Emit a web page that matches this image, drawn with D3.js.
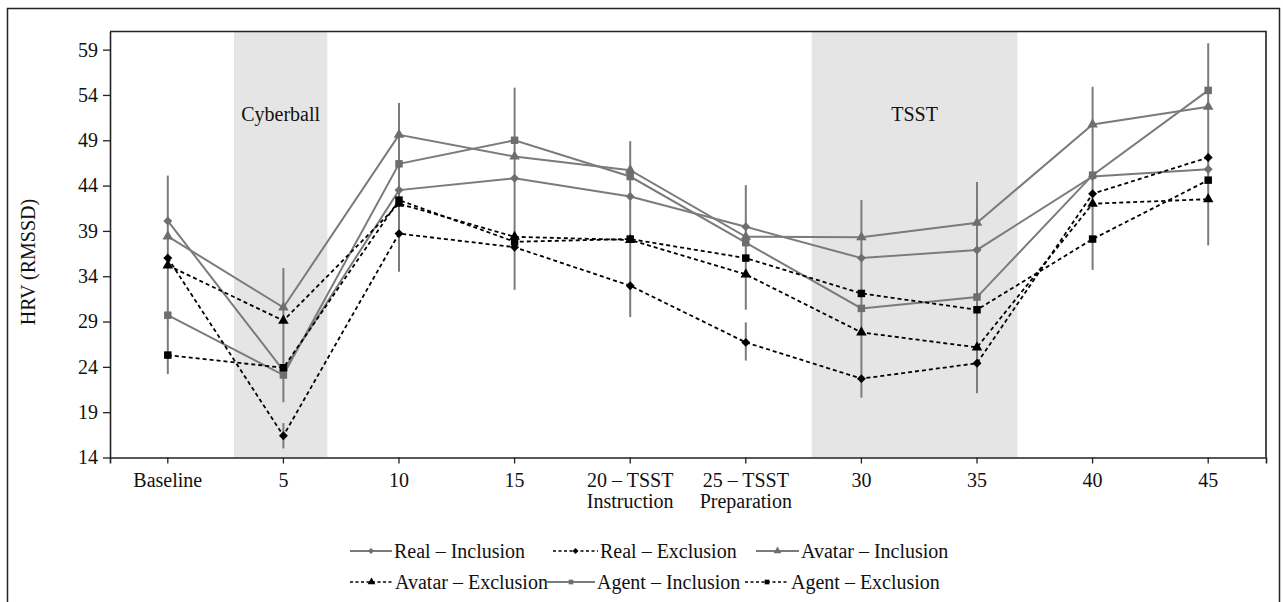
<!DOCTYPE html>
<html><head><meta charset="utf-8">
<script src="https://cdn.jsdelivr.net/npm/d3@7"></script>
<style>
html,body{margin:0;padding:0;background:#fff;}
svg{display:block;font-family:"Liberation Serif","Times New Roman",serif;}
</style></head>
<body>
<svg id="chart" width="1283" height="602"></svg>
<script>
// ---------- data ----------
const categories = ["Baseline","5","10","15","20 – TSST\nInstruction","25 – TSST\nPreparation","30","35","40","45"];
const yTicks = [14,19,24,29,34,39,44,49,54,59];

const realInclusion   = [40.1, 23.6, 43.5, 44.8, 42.8, 39.45, 36.0, 36.9, 45.0, 45.8];
const realExclusion   = [36.0, 16.4, 38.7, 37.2, 32.95, 26.7, 22.7, 24.4, 43.1, 47.1];
const avatarInclusion = [38.4, 30.55, 49.6, 47.2, 45.7, 38.35, 38.3, 39.9, 50.75, 52.7];
const avatarExclusion = [35.2, 29.1, 42.0, 38.35, 38.0, 34.2, 27.8, 26.15, 42.0, 42.5];
const agentInclusion  = [29.7, 23.1, 46.4, 49.0, 45.0, 37.7, 30.45, 31.7, 45.15, 54.5];
const agentExclusion  = [25.3, 23.9, 42.4, 37.8, 38.1, 36.0, 32.1, 30.3, 38.1, 44.6];

// error bars: [category index, low, high]
const errorBars = [
  [0, 23.2, 45.1],
  [1, 20.1, 34.9], [1, 15.0, 17.8],
  [2, 34.5, 53.1],
  [3, 32.5, 54.8],
  [4, 29.5, 48.9],
  [5, 30.3, 44.05], [5, 24.7, 28.9],
  [6, 20.6, 42.4],
  [7, 21.1, 44.4],
  [8, 34.7, 54.9],
  [9, 37.4, 59.7]
];

// shaded phases, in category-index units
const phases = [
  {label:"Cyberball", from:0.573, to:1.38},
  {label:"TSST", from:5.57, to:7.35}
];

const seriesNames = ["Real – Inclusion","Real – Exclusion","Avatar – Inclusion","Avatar – Exclusion","Agent – Inclusion","Agent – Exclusion"];
const seriesValues = [realInclusion, realExclusion, avatarInclusion, avatarExclusion, agentInclusion, agentExclusion];
const seriesShape = ["diamond","diamond","triangle","triangle","square","square"];
const seriesDashed = [false,true,false,true,false,true];

// ---------- drawing ----------
const GRAY = "#7b7b7b";
const FONT = 20;
const svg = d3.select("#chart");
const L = 110, R = 1266, T = 31.5, B = 457.5;

const x = d3.scaleBand().domain(categories).range([L, R]).padding(0);
const cx = c => x(c) + x.bandwidth()/2;
const idxX = d3.scaleLinear().domain([0, categories.length-1]).range([cx(categories[0]), cx(categories[categories.length-1])]);
const y = d3.scaleLinear().domain([14, 61]).range([B, T]);

// outer border
svg.append("rect").attr("x",7.5).attr("y",8.5).attr("width",1272).attr("height",620)
  .attr("fill","none").attr("stroke","#222").attr("stroke-width",1.5);

// phases
phases.forEach(p => {
  svg.append("rect").attr("x", idxX(p.from)).attr("y", T)
    .attr("width", idxX(p.to)-idxX(p.from)).attr("height", B-T)
    .attr("fill","#e5e5e5");
  svg.append("text").attr("x",(idxX(p.from)+idxX(p.to))/2).attr("y",121)
    .attr("text-anchor","middle").attr("font-size",FONT).attr("fill","#111").text(p.label);
});

// frame top & right
svg.append("path").attr("d",`M${L},${T}H${R}V${B}`).attr("fill","none").attr("stroke","#222").attr("stroke-width",1.6);

// y axis
const yAxis = svg.append("g").attr("transform",`translate(${L},0)`)
  .call(d3.axisLeft(y).tickValues(yTicks).tickSize(7).tickPadding(5).tickSizeOuter(0));
yAxis.select(".domain").attr("stroke","#222").attr("stroke-width",1.6);
yAxis.selectAll(".tick line").attr("stroke","#222").attr("stroke-width",1.3);
yAxis.selectAll("text").attr("font-size",FONT).attr("fill","#111").attr("font-family","Liberation Serif, Times New Roman, serif");

// x axis
const xAxis = svg.append("g").attr("transform",`translate(0,${B})`)
  .call(d3.axisBottom(x).tickSize(6).tickSizeOuter(6).tickFormat(""));
xAxis.select(".domain").attr("stroke","#222").attr("stroke-width",1.6);
xAxis.selectAll(".tick line").attr("stroke","#222").attr("stroke-width",1.3);
categories.forEach(c => {
  const lines = c.split("\n");
  const t = svg.append("text").attr("x", cx(c)).attr("y", 487).attr("text-anchor","middle")
    .attr("font-size",FONT).attr("fill","#111");
  lines.forEach((ln,i) => t.append("tspan").attr("x",cx(c)).attr("dy", i===0?0:21).text(ln));
});

// y label
svg.append("text").attr("transform",`translate(35,262) rotate(-90)`).attr("text-anchor","middle")
  .attr("font-size",FONT).attr("fill","#111").text("HRV (RMSSD)");

// error bars
svg.append("g").selectAll("line").data(errorBars).join("line")
  .attr("x1", d => cx(categories[d[0]])).attr("x2", d => cx(categories[d[0]]))
  .attr("y1", d => y(d[1])).attr("y2", d => y(d[2]))
  .attr("stroke", GRAY).attr("stroke-width",2);

function symbolPath(shape){
  if(shape==="diamond") return d3.symbol().type(d3.symbolSquare).size(40)();
  if(shape==="triangle") return d3.symbol().type(d3.symbolTriangle).size(48)();
  return d3.symbol().type(d3.symbolSquare).size(56)();
}
function symbolTransform(shape, px, py){
  return shape==="diamond" ? `translate(${px},${py}) rotate(45)` : `translate(${px},${py})`;
}

const line = d3.line().x((d,i)=>cx(categories[i])).y(d=>y(d));

// draw inclusion (gray solid) first, then exclusion
const order = [0,2,4,1,3,5];
order.forEach(s => {
  const vals = seriesValues[s];
  const col = seriesDashed[s] ? "#000" : GRAY;
  svg.append("path").datum(vals).attr("d", line).attr("fill","none")
    .attr("stroke", col).attr("stroke-width", seriesDashed[s]?1.8:2)
    .attr("stroke-dasharray", seriesDashed[s]?"4,3":null);
  svg.append("g").selectAll("path").data(vals).join("path")
    .attr("d", symbolPath(seriesShape[s]))
    .attr("transform",(d,i)=>symbolTransform(seriesShape[s], cx(categories[i]), y(d)))
    .attr("fill", seriesDashed[s] ? "#000" : "#6e6e6e");
});

// legend
const legendPos = [
  {sx:350, ex:392, tx:394, ty:552},
  {sx:553, ex:598, tx:600, ty:552},
  {sx:756, ex:799, tx:801, ty:552},
  {sx:350, ex:393, tx:395, ty:583},
  {sx:547, ex:595, tx:597, ty:583},
  {sx:745, ex:789, tx:791, ty:583}
];
seriesNames.forEach((name,s) => {
  const p = legendPos[s];
  const col = seriesDashed[s] ? "#000" : GRAY;
  const g = svg.append("g");
  g.append("line").attr("x1",p.sx).attr("x2",p.ex).attr("y1",p.ty-1).attr("y2",p.ty-1)
    .attr("stroke",col).attr("stroke-width",seriesDashed[s]?1.6:2)
    .attr("stroke-dasharray",seriesDashed[s]?"3,2.5":null);
  g.append("path").attr("d", d3.symbol().type(seriesShape[s]==="triangle"?d3.symbolTriangle:d3.symbolSquare).size(seriesShape[s]==="square"?22:(seriesShape[s]==="triangle"?26:18))())
    .attr("transform", symbolTransform(seriesShape[s], (p.sx+p.ex)/2, p.ty-1))
    .attr("fill", seriesDashed[s] ? "#000" : "#6e6e6e");
  g.append("text").attr("x",p.tx).attr("y",p.ty+6).attr("font-size",FONT).attr("fill","#111").text(name);
});
</script>
</body></html>
